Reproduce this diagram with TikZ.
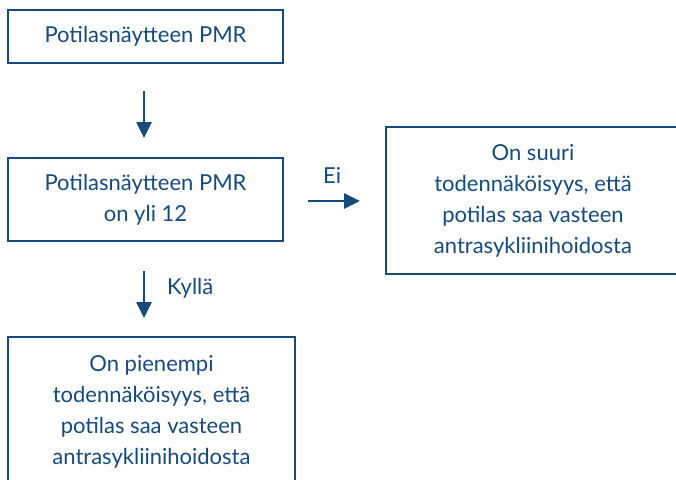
\documentclass[tikz,border=0pt]{standalone}
\usepackage{fontspec}
\setmainfont{Lato}
\usetikzlibrary{arrows.meta}
\definecolor{qblue}{RGB}{22,74,125}
\begin{document}
\begin{tikzpicture}[x=1pt,y=-1pt,
  box/.style={draw=qblue, line width=2pt, inner sep=0pt, text=qblue, align=center, font=\fontsize{22}{31}\selectfont},
  arr/.style={draw=qblue, line width=2.6pt, -{Triangle[width=15pt,length=16pt]}},
  lbl/.style={text=qblue, font=\fontsize{22}{31}\selectfont, inner sep=0pt}]
\useasboundingbox (0,0) rectangle (676,479);
\clip (0,0) rectangle (676,479);
\node[box, minimum width=275pt, minimum height=53pt] (b1) at (145.5,36.5) {Potilasnäytteen PMR};
\node[box, minimum width=275pt, minimum height=83pt] (b2) at (145.5,199.5) {Potilasnäytteen PMR\\on yli 12};
\node[box, minimum width=294pt, minimum height=147pt] (b3) at (533,200.5) {On suuri\\todennäköisyys, että\\potilas saa vasteen\\antrasykliinihoidosta};
\node[box, minimum width=287pt, minimum height=150pt] (b4) at (151.5,412) {On pienempi\\todennäköisyys, että\\potilas saa vasteen\\antrasykliinihoidosta};
\draw[arr, shorten <=27pt, shorten >=19pt] ([xshift=-1.5pt]b1.south) -- ([xshift=-1.5pt]b2.north);
\draw[arr, shorten <=24pt, shorten >=25pt] ([yshift=-1.5pt]b2.east) -- ([yshift=-1.5pt]b2.east -| b3.west);
\draw[arr, shorten <=29pt, shorten >=18pt] ([xshift=-1.5pt]b2.south) -- ([xshift=-1.5pt]b2.south |- b4.north);
\node[lbl, anchor=base west] (ei) at (323,183) {Ei};
\node[lbl, anchor=base west] (ky) at (167,294) {Kyllä};
\end{tikzpicture}
\end{document}
